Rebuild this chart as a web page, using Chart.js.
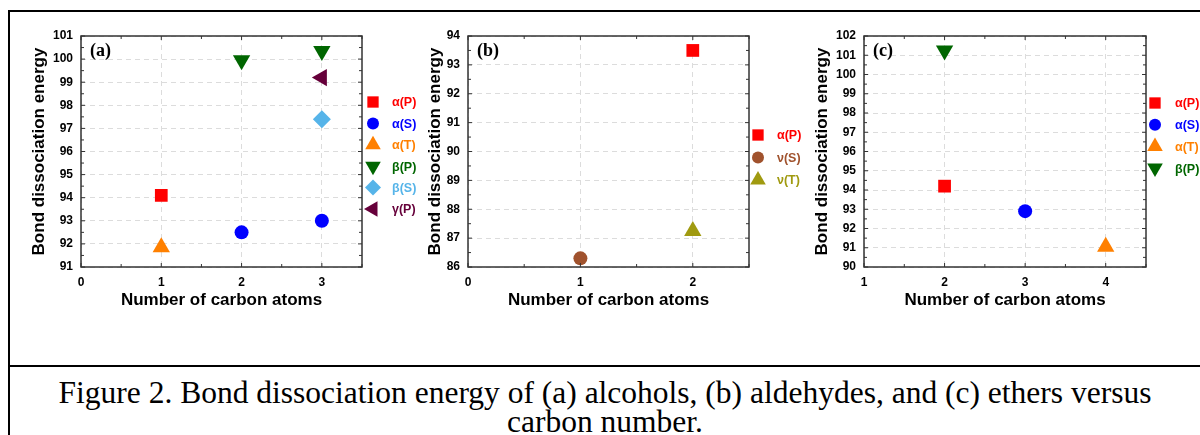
<!DOCTYPE html>
<html>
<head>
<meta charset="utf-8">
<script src="https://cdn.jsdelivr.net/npm/chart.js@4.4.0/dist/chart.umd.min.js"></script>
<style>
  body { margin: 0; width: 1200px; height: 435px; background: #fff; position: relative; overflow: hidden; }
  .panel { position: absolute; top: 12px; height: 354px; }
  .rule { position: absolute; background: #000; }
  #caption { position: absolute; left: 10px; width: 1190px; top: 378px; text-align: center;
             font-family: "Liberation Serif", "Times New Roman", serif; font-size: 31.5px; line-height: 29px; color: #000; }
</style>
</head>
<body>
<div class="rule" style="left:8px;top:10px;width:1192px;height:2px"></div>
<div class="rule" style="left:8px;top:10px;width:2px;height:425px"></div>
<div class="rule" style="left:8px;top:365px;width:1192px;height:2px"></div>

<div class="panel" style="left:10px;width:410px"><canvas id="chartA" width="410" height="354"></canvas></div>
<div class="panel" style="left:415px;width:390px"><canvas id="chartB" width="390" height="354"></canvas></div>
<div class="panel" style="left:800px;width:400px"><canvas id="chartC" width="400" height="354"></canvas></div>

<div id="caption">Figure 2. Bond dissociation energy of (a) alcohols, (b) aldehydes, and (c) ethers versus<br>carbon number.</div>

<script>
// (a) alcohols
const alcoholSeries = ['α(P)', 'α(S)', 'α(T)', 'β(P)', 'β(S)', 'γ(P)'];
const alcoholCarbons = [[1], [2, 3], [1], [2, 3], [3], [3]];
const alcoholBDE = [[94.1], [92.5, 93.0], [91.85], [99.95, 100.35], [97.4], [99.2]];
const alcoholXRange = [0, 3.5];
const alcoholYRange = [91, 101];

// (b) aldehydes
const aldehydeSeries = ['α(P)', 'ν(S)', 'ν(T)'];
const aldehydeCarbons = [[2], [1], [2]];
const aldehydeBDE = [[93.5], [86.3], [87.25]];
const aldehydeXRange = [0, 2.5];
const aldehydeYRange = [86, 94];

// (c) ethers
const etherSeries = ['α(P)', 'α(S)', 'α(T)', 'β(P)'];
const etherCarbons = [[2], [3], [4], [2]];
const etherBDE = [[94.2], [92.9], [91.05], [101.25]];
const etherXRange = [1, 4.5];
const etherYRange = [90, 102];

const xTitle = 'Number of carbon atoms';
const yTitle = 'Bond dissociation energy';

// marker look for every series name
const markers = {
  'α(P)': { color: '#ff0000', style: 'rect', rotation: 0, radius: 9 },
  'α(S)': { color: '#0000ff', style: 'circle', rotation: 0, radius: 7 },
  'α(T)': { color: '#ff8000', style: 'triangle', rotation: 0, radius: 10 },
  'β(P)': { color: '#006600', style: 'triangle', rotation: 180, radius: 10 },
  'β(S)': { color: '#56b4e9', style: 'rectRot', rotation: 0, radius: 9 },
  'γ(P)': { color: '#66003a', style: 'triangle', rotation: 270, radius: 10 },
  'ν(S)': { color: '#a0522d', style: 'circle', rotation: 0, radius: 7 },
  'ν(T)': { color: '#a09a10', style: 'triangle', rotation: 0, radius: 10 },
};

const sans = '"Liberation Sans", Arial, sans-serif';
const serif = '"Liberation Serif", "Times New Roman", serif';

// frame, inward ticks, panel letter and the side legend
const decorations = {
  id: 'decorations',
  afterDraw(chart, args, opts) {
    const { ctx, chartArea: a, scales } = chart;
    const line = (x1, y1, x2, y2) => { ctx.beginPath(); ctx.moveTo(x1, y1); ctx.lineTo(x2, y2); ctx.stroke(); };
    ctx.save();
    ctx.strokeStyle = '#333';
    ctx.lineWidth = 1.5;
    ctx.strokeRect(a.left, a.top, a.right - a.left, a.bottom - a.top);

    ctx.lineWidth = 1;
    const sx = scales.x, sy = scales.y;
    for (let v = sx.min; v <= sx.max + 1e-9; v += 0.5) {
      const px = sx.getPixelForValue(v);
      const len = Number.isInteger(v) ? 4 : 3;
      line(px, a.bottom, px, a.bottom - len);
      line(px, a.top, px, a.top + len);
    }
    for (let v = sy.min; v <= sy.max + 1e-9; v += 0.5) {
      const py = sy.getPixelForValue(v);
      const len = Number.isInteger(v) ? 4 : 3;
      line(a.left, py, a.left + len, py);
      line(a.right, py, a.right - len, py);
    }

    ctx.fillStyle = '#000';
    ctx.font = 'bold 18px ' + serif;
    ctx.textBaseline = 'middle';
    ctx.textAlign = 'left';
    ctx.fillText(opts.label, a.left + 9, a.top + 15);

    ctx.font = 'bold 12.5px ' + sans;
    chart.data.datasets.forEach((ds, i) => {
      const m = markers[ds.label];
      const y = a.top + opts.legendTop + i * opts.legendStep;
      ctx.fillStyle = m.color;
      Chart.helpers.drawPoint(ctx, { pointStyle: m.style, rotation: m.rotation, radius: m.radius - 1, borderWidth: 0 },
        a.right + opts.markerDx, y);
      ctx.fillStyle = m.color;
      ctx.fillText(ds.label, a.right + opts.textDx, y + 1);
    });
    ctx.restore();
  }
};

function makeChart(id, names, xs, ys, xRange, yRange, layout) {
  const datasets = names.map((name, i) => {
    const m = markers[name];
    return {
      label: name,
      data: xs[i].map((x, j) => ({ x: x, y: ys[i][j] })),
      backgroundColor: m.color,
      borderColor: m.color,
      pointStyle: m.style,
      pointRotation: m.rotation,
      pointRadius: m.radius,
      pointBorderWidth: 0,
      showLine: false,
    };
  });
  const tickFont = { family: sans, weight: 'bold', size: 12 };
  return new Chart(document.getElementById(id), {
    type: 'scatter',
    data: { datasets },
    options: {
      responsive: false,
      animation: false,
      layout: { padding: { left: 0, top: 24, right: layout.padRight, bottom: 55 } },
      plugins: {
        legend: { display: false },
        tooltip: { enabled: false },
        decorations: layout.deco,
      },
      scales: {
        x: {
          type: 'linear',
          min: xRange[0],
          max: xRange[1],
          afterFit: (s) => { s.height = 44; },
          ticks: { stepSize: 1, includeBounds: false, padding: 8, color: '#000', font: tickFont },
          grid: { color: '#dcdcdc', lineWidth: 1, drawTicks: false },
          border: { display: false, dash: [5, 4] },
          title: { display: true, text: xTitle, color: '#000', padding: 0,
                   font: { family: sans, weight: 'bold', size: 17 } },
        },
        y: {
          type: 'linear',
          min: yRange[0],
          max: yRange[1],
          afterFit: (s) => { s.width = layout.yWidth; },
          ticks: { stepSize: 1, padding: 8, color: '#000', font: tickFont },
          grid: { color: '#dcdcdc', lineWidth: 1, drawTicks: false },
          border: { display: false, dash: [5, 4] },
          title: { display: true, text: yTitle, color: '#000', padding: { top: layout.titlePad, bottom: 0 },
                   font: { family: sans, weight: 'bold', size: 17 } },
        },
      },
    },
    plugins: [decorations],
  });
}

makeChart('chartA', alcoholSeries, alcoholCarbons, alcoholBDE, alcoholXRange, alcoholYRange, {
  padRight: 58, yWidth: 71, titlePad: 19,
  deco: { label: '(a)', markerDx: 11, textDx: 30, legendTop: 66, legendStep: 21.4 },
});
makeChart('chartB', aldehydeSeries, aldehydeCarbons, aldehydeBDE, aldehydeXRange, aldehydeYRange, {
  padRight: 56, yWidth: 53, titlePad: 10,
  deco: { label: '(b)', markerDx: 9, textDx: 28, legendTop: 99, legendStep: 22.5 },
});
makeChart('chartC', etherSeries, etherCarbons, etherBDE, etherXRange, etherYRange, {
  padRight: 54, yWidth: 64, titlePad: 12,
  deco: { label: '(c)', markerDx: 9, textDx: 29, legendTop: 67, legendStep: 21.7 },
});
</script>
</body>
</html>
